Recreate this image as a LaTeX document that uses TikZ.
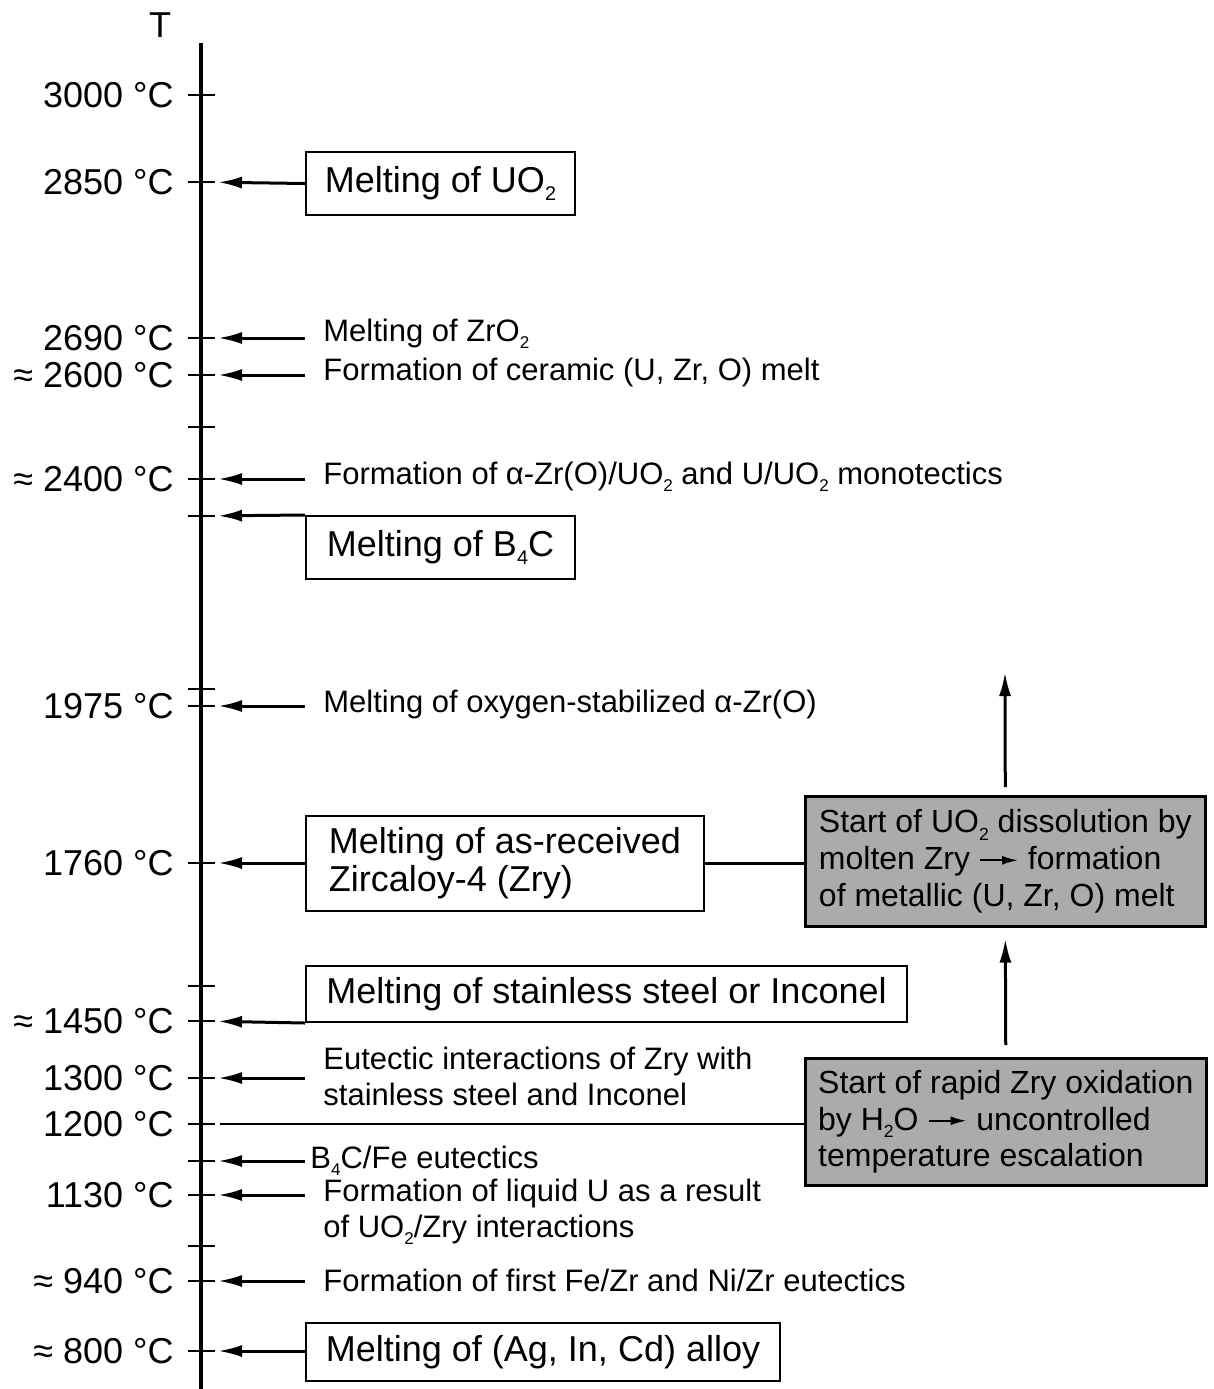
\documentclass[tikz,border=0pt]{standalone}
\usepackage{fontspec}
\setmainfont{Liberation Sans}
\usepackage{tikz}
\usetikzlibrary{arrows.meta, positioning}

\newcommand{\subn}[1]{\raisebox{-0.45ex}{\scalebox{0.55}{#1}}}
\newcommand{\zarrow}{\tikz[baseline=-0.55ex]\draw[line width=1pt,-{Latex[length=8pt,width=4.5pt]}] (0pt,0pt) -- (19pt,0pt);}

\begin{document}
\begin{tikzpicture}[x=0.5pt, y=-0.5pt]
    % Styles
    \tikzstyle{axisline} = [line width=1.6pt]
    \tikzstyle{tick} = [line width=1.2pt]
    \tikzstyle{arr} = [line width=1.5pt, -{Latex[length=12pt, width=6pt]}, shorten >=8.5pt]
    \tikzstyle{temp} = [anchor=east, inner sep=0pt, font=\fontsize{18}{22}\selectfont]
    \tikzstyle{event} = [anchor=west, inner xsep=9pt, inner ysep=0pt, align=left, font=\fontsize{15.5}{18}\selectfont]
    \tikzstyle{block} = [draw, line width=1pt, anchor=north west, inner sep=0pt, align=left, font=\fontsize{18}{19}\selectfont]
    \tikzstyle{shade} = [block, fill=black!33, line width=1.3pt, font=\fontsize{16}{18.3}\selectfont]

    \useasboundingbox (0,0) rectangle (1214,1389);

    % Axis
    \coordinate (axtop) at (201,43);
    \coordinate (axbot) at (201,1389);
    \draw[axisline] (axtop) -- (axbot);
    \node[font=\fontsize{18}{22}\selectfont] (tlabel) at (160,25) {T};
    \foreach \n/\y in {3000/95, 2850/182, 2690/338, 2600/375, a/427, 2400/479, b/516, c/689, 1975/706, 1760/863, d/986, 1450/1021, 1300/1078, 1200/1124, e/1161, 1130/1195, f/1246, 940/1281, 800/1351}
    {
        \coordinate (t\n) at (201,\y);
        \draw[tick] (188,\y) -- (215,\y);
    }
    \foreach \n/\txt in {3000/3000 °C, 2850/2850 °C, 2690/2690 °C, 2600/≈ 2600 °C, 2400/≈ 2400 °C, 1975/1975 °C, 1760/1760 °C, 1450/≈ 1450 °C, 1300/1300 °C, 1200/1200 °C, 1130/1130 °C, 940/≈ 940 °C, 800/≈ 800 °C}
        \node[temp, left=13.5pt of t\n] (l\n) {\txt};

    % Boxes
    \node[block, minimum width=134.5pt, minimum height=31.5pt] (uo2) at (305,151) {Melting of UO\subn{2}};
    \node[block, minimum width=134.5pt, minimum height=31.5pt] (b4c) at (305,515) {Melting of B\subn{4}C};
    \node[block, minimum width=199pt, minimum height=47.5pt] (zry) at (305,815) {Melting of as-received\\Zircaloy-4 (Zry)};
    \node[block, minimum width=300.5pt, minimum height=28pt] (steel) at (305,965) {Melting of stainless steel or Inconel};
    \node[block, minimum width=237pt, minimum height=29pt] (agincd) at (305,1322) {Melting of (Ag, In, Cd) alloy};
    \node[shade, minimum width=200pt, minimum height=65pt] (dissol) at (804,795) {Start of UO\subn{2} dissolution by\\molten Zry \zarrow\ formation\\of metallic (U, Zr, O) melt};
    \node[shade, minimum width=200.5pt, minimum height=63.5pt] (oxid) at (804,1057) {Start of rapid Zry oxidation\\by H\subn{2}O \zarrow\ uncontrolled\\temperature escalation};

    % Events
    \node[event] (zro2) at (305,334) {Melting of ZrO\subn{2}};
    \node[event] (ceramic) at (305,372) {Formation of ceramic (U, Zr, O) melt};
    \node[event] (mono) at (305,477) {Formation of α-Zr(O)/UO\subn{2} and U/UO\subn{2} monotectics};
    \node[event] (alphazr) at (305,704) {Melting of oxygen-stabilized α-Zr(O)};
    \node[event] (eutectic) at (305,1076) {Eutectic interactions of Zry with\\stainless steel and Inconel};
    \node[event, inner xsep=2.5pt] (bfe) at (305,1161) {B\subn{4}C/Fe eutectics};
    \node[event] (liquidu) at (305,1212) {Formation of liquid U as a result\\of UO\subn{2}/Zry interactions};
    \node[event] (fezr) at (305,1280) {Formation of first Fe/Zr and Ni/Zr eutectics};

    % Paths
    \draw[arr] (uo2.west) -- (t2850);
    \draw[arr] (zro2.west |- t2690) -- (t2690);
    \draw[arr] (ceramic.west |- t2600) -- (t2600);
    \draw[arr] (mono.west |- t2400) -- (t2400);
    \draw[arr] (b4c.north west) -- (tb);
    \draw[arr] (alphazr.west |- t1975) -- (t1975);
    \draw[arr] (zry.west |- t1760) -- (t1760);
    \draw[arr] (steel.south west) -- (t1450);
    \draw[arr] (eutectic.west |- t1300) -- (t1300);
    \draw[arr] (bfe.west |- te) -- (te);
    \draw[arr] (liquidu.west |- t1130) -- (t1130);
    \draw[arr] (fezr.west |- t940) -- (t940);
    \draw[arr] (agincd.west |- t800) -- (t800);
    \draw[line width=1.4pt, shorten <=9.5pt] (t1200) -- (t1200 -| oxid.west);
    \draw[line width=1.4pt] (zry.east) -- (zry.east -| dissol.west);
    \draw[arr, shorten <=6pt, shorten >=5.5pt] (oxid.north) -- (dissol.south);
    \coordinate (escal) at (1005,672);
    \draw[arr, shorten <=4pt, shorten >=0pt] (dissol.north) -- (escal);
\end{tikzpicture}
\end{document}
